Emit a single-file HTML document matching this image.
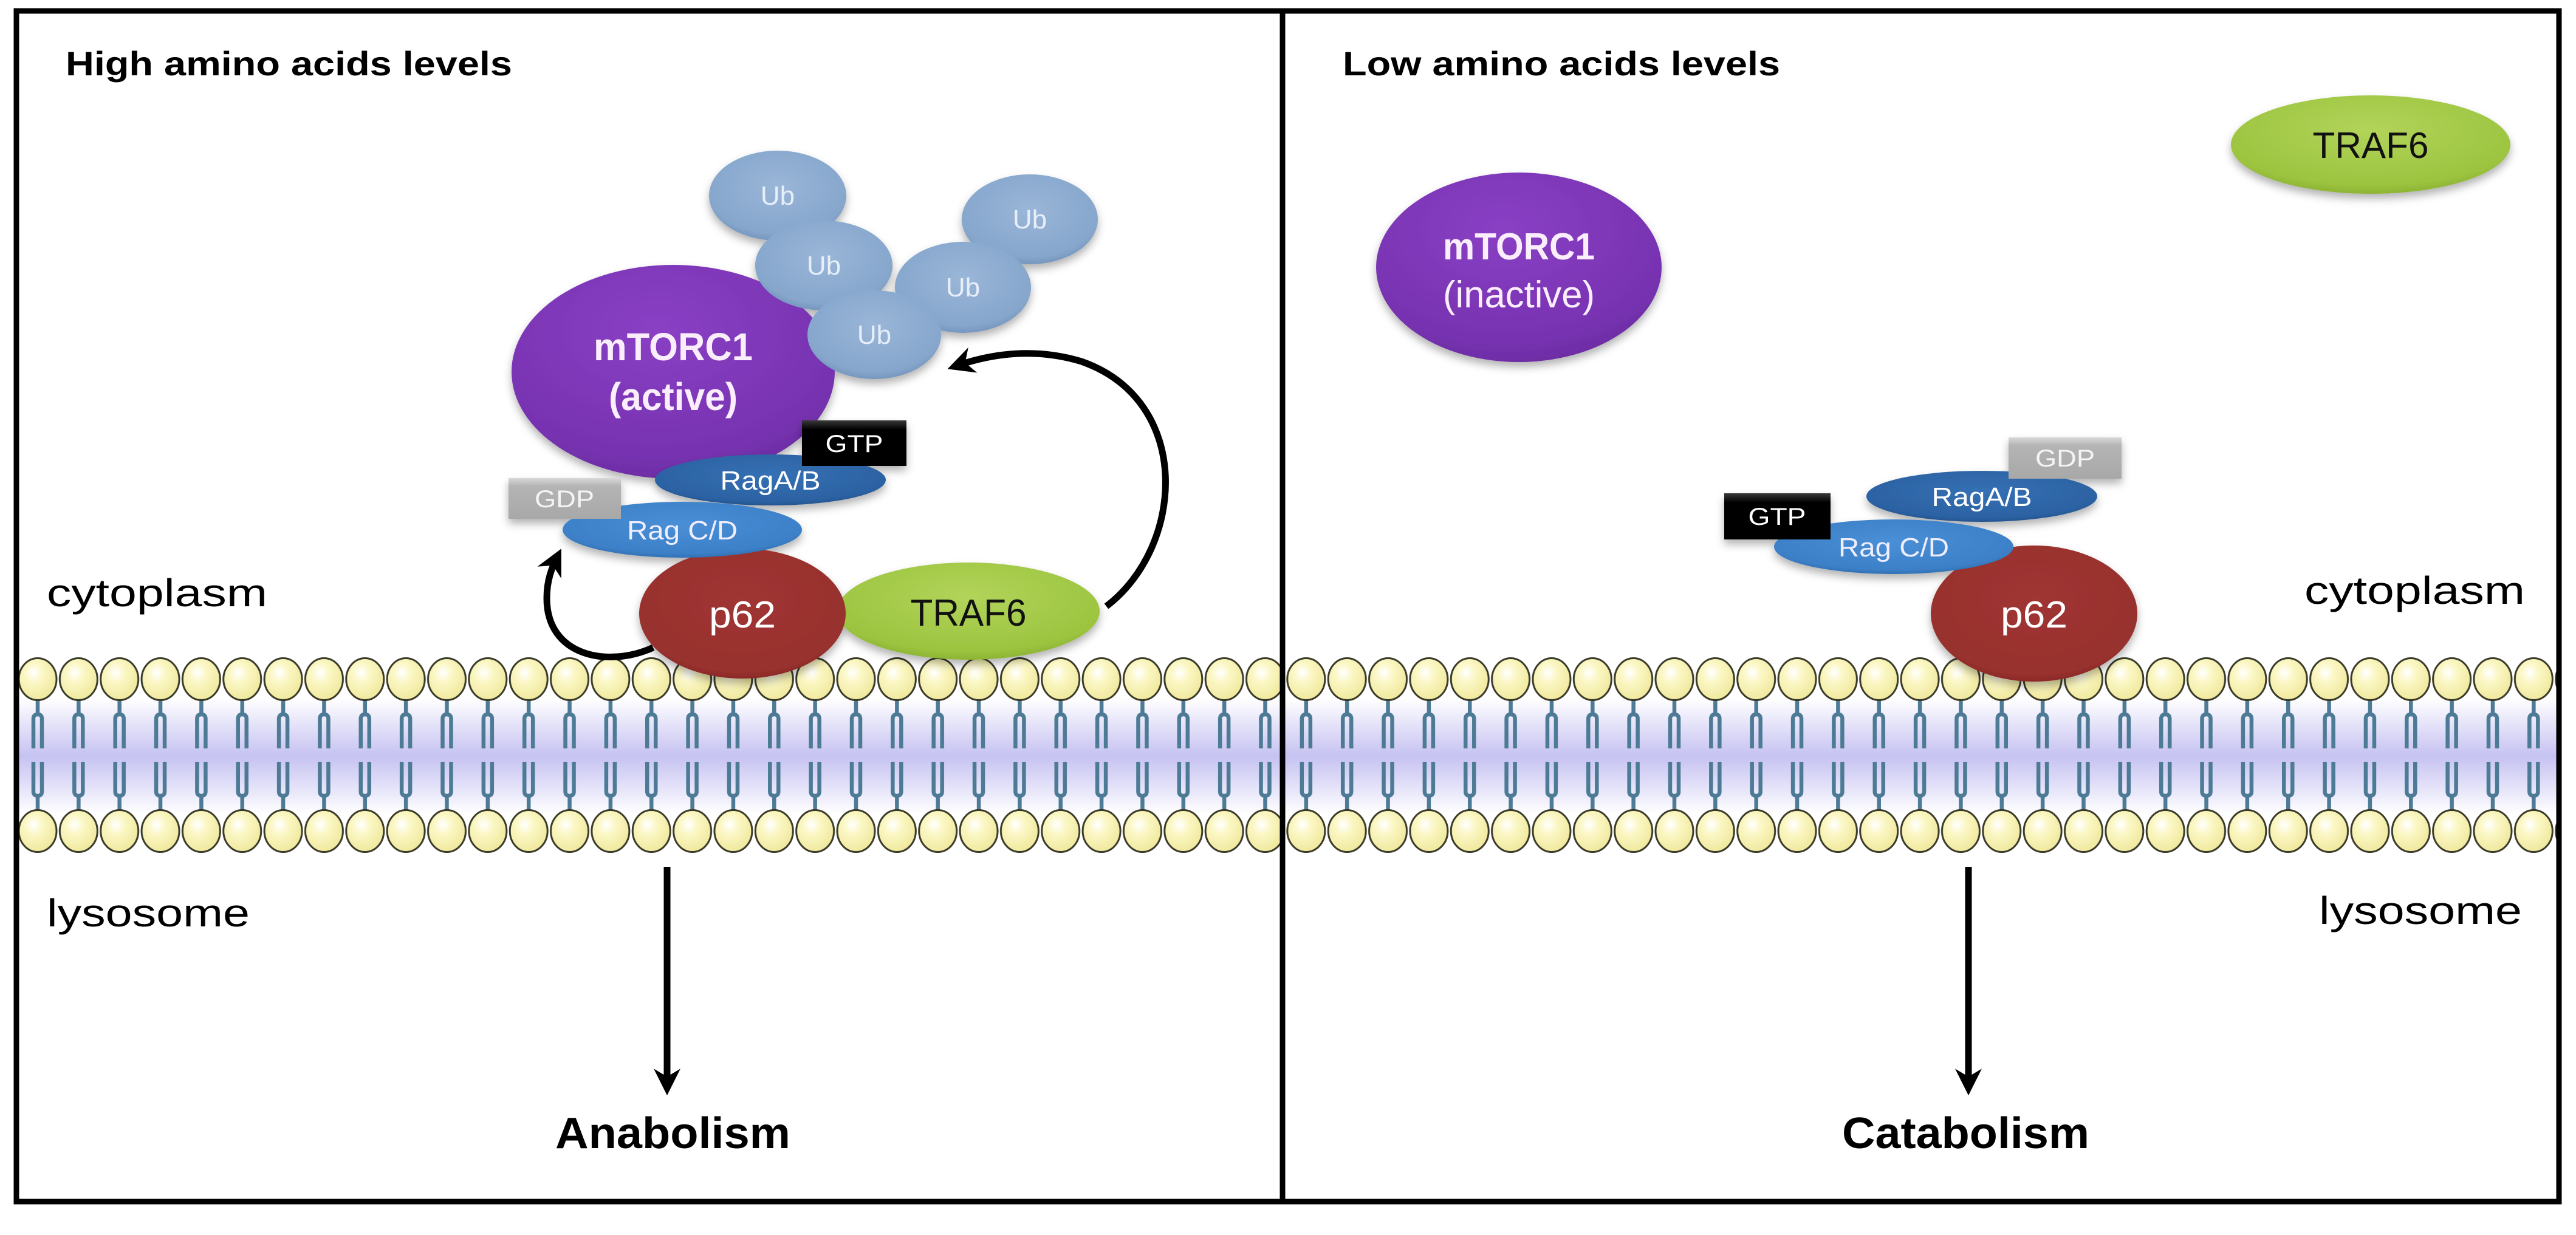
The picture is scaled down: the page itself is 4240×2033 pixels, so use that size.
<!DOCTYPE html>
<html><head><meta charset="utf-8">
<style>
html,body{margin:0;padding:0;background:#fff;}
svg{display:block;}
text{font-family:"Liberation Sans",sans-serif;}
</style></head>
<body>
<svg width="4240" height="2033" viewBox="0 0 4240 2033" xmlns="http://www.w3.org/2000/svg">
<defs>
  <radialGradient id="head" cx="0.4" cy="0.35" r="0.7">
    <stop offset="0" stop-color="#ffffff"/>
    <stop offset="0.35" stop-color="#fbf7c4"/>
    <stop offset="1" stop-color="#efe79a"/>
  </radialGradient>
  <linearGradient id="band" x1="0" y1="0" x2="0" y2="1">
    <stop offset="0" stop-color="#ffffff"/>
    <stop offset="0.3" stop-color="#dcdaf7"/>
    <stop offset="0.5" stop-color="#c6c2f2"/>
    <stop offset="0.7" stop-color="#dcdaf7"/>
    <stop offset="1" stop-color="#ffffff"/>
  </linearGradient>
  <pattern id="lipid" patternUnits="userSpaceOnUse" x="28.3" y="1076" width="67.35" height="332">
    <g stroke="#4d7a94" stroke-width="6.5" fill="none">
      <line x1="33.7" y1="75" x2="33.7" y2="100"/>
      <path d="M26.7,156 V107 Q26.7,100 33.7,100 Q40.7,100 40.7,107 V156"/>
      <line x1="33.7" y1="257" x2="33.7" y2="234"/>
      <path d="M26.7,178 V227 Q26.7,234 33.7,234 Q40.7,234 40.7,227 V178"/>
    </g>
    <ellipse cx="33.7" cy="42" rx="31" ry="34.5" fill="url(#head)" stroke="#3a3a2a" stroke-width="3"/>
    <ellipse cx="33.7" cy="292" rx="31" ry="34.5" fill="url(#head)" stroke="#3a3a2a" stroke-width="3"/>
  </pattern>
  <radialGradient id="purple" cx="0.45" cy="0.3" r="0.75">
    <stop offset="0" stop-color="#8a40c4"/>
    <stop offset="0.8" stop-color="#7632b0"/>
    <stop offset="1" stop-color="#6a2aa0"/>
  </radialGradient>
  <radialGradient id="ub" cx="0.5" cy="0.4" r="0.65">
    <stop offset="0" stop-color="#9ab6d8"/>
    <stop offset="0.8" stop-color="#86a6cc"/>
    <stop offset="1" stop-color="#6c8db5"/>
  </radialGradient>
  <radialGradient id="ragab" cx="0.5" cy="0.4" r="0.65">
    <stop offset="0" stop-color="#3470b4"/>
    <stop offset="0.8" stop-color="#2c62a3"/>
    <stop offset="1" stop-color="#1f4c85"/>
  </radialGradient>
  <radialGradient id="ragcd" cx="0.5" cy="0.4" r="0.65">
    <stop offset="0" stop-color="#4a8fd6"/>
    <stop offset="0.8" stop-color="#3c80c8"/>
    <stop offset="1" stop-color="#2c68a8"/>
  </radialGradient>
  <radialGradient id="p62" cx="0.5" cy="0.4" r="0.65">
    <stop offset="0" stop-color="#a03532"/>
    <stop offset="0.85" stop-color="#97302d"/>
    <stop offset="1" stop-color="#7e2422"/>
  </radialGradient>
  <radialGradient id="traf" cx="0.5" cy="0.35" r="0.7">
    <stop offset="0" stop-color="#b2d45a"/>
    <stop offset="0.8" stop-color="#9cc43f"/>
    <stop offset="1" stop-color="#84ab2e"/>
  </radialGradient>
  <linearGradient id="gtp" x1="0" y1="0" x2="0" y2="1">
    <stop offset="0" stop-color="#3a3a3a"/>
    <stop offset="0.2" stop-color="#000"/>
    <stop offset="1" stop-color="#000"/>
  </linearGradient>
  <linearGradient id="gdp" x1="0" y1="0" x2="0" y2="1">
    <stop offset="0" stop-color="#d8d8d8"/>
    <stop offset="0.2" stop-color="#b4b4b4"/>
    <stop offset="1" stop-color="#a8a8a8"/>
  </linearGradient>
  <filter id="sh" x="-20%" y="-20%" width="140%" height="150%">
    <feDropShadow dx="0" dy="8" stdDeviation="7" flood-color="#000" flood-opacity="0.3"/>
  </filter>
  <marker id="ah" viewBox="0 0 10 10" refX="7" refY="5" markerWidth="4" markerHeight="4" orient="auto-start-reverse" markerUnits="strokeWidth">
    <path d="M0,0 L10,5 L0,10 L3,5 z" fill="#000"/>
  </marker>
</defs>

<rect x="30" y="1150" width="4180" height="190" fill="url(#band)"/>
<rect x="30" y="1076" width="4180" height="332" fill="url(#lipid)"/>

<rect x="27" y="18" width="4185" height="1960" fill="none" stroke="#000" stroke-width="9"/>
<line x1="2111" y1="18" x2="2111" y2="1978" stroke="#000" stroke-width="9"/>

<!-- LEFT PANEL -->
<text x="108" y="124" font-size="56" font-weight="bold" textLength="735" lengthAdjust="spacingAndGlyphs">High amino acids levels</text>
<text x="77" y="998" font-size="64" textLength="363" lengthAdjust="spacingAndGlyphs">cytoplasm</text>
<text x="77" y="1525" font-size="64" textLength="334" lengthAdjust="spacingAndGlyphs">lysosome</text>

<g filter="url(#sh)">
<ellipse cx="1108" cy="612" rx="266" ry="176" fill="url(#purple)"/>
<ellipse cx="1280" cy="322" rx="113" ry="74" fill="url(#ub)"/>
<ellipse cx="1695" cy="361" rx="112" ry="74" fill="url(#ub)"/>
<ellipse cx="1356" cy="437" rx="113" ry="74" fill="url(#ub)"/>
<ellipse cx="1585" cy="473" rx="112" ry="75" fill="url(#ub)"/>
<ellipse cx="1439" cy="551" rx="110" ry="73" fill="url(#ub)"/>
</g>
<text x="1108" y="593" font-size="64" font-weight="bold" fill="#fbeefc" text-anchor="middle" textLength="262" lengthAdjust="spacingAndGlyphs">mTORC1</text>
<text x="1108" y="675" font-size="64" font-weight="bold" fill="#fbeefc" text-anchor="middle" textLength="212" lengthAdjust="spacingAndGlyphs">(active)</text>
<g font-size="44" fill="#e6eef8" text-anchor="middle">
<text x="1280" y="337">Ub</text>
<text x="1356" y="452">Ub</text>
<text x="1439" y="566">Ub</text>
<text x="1585" y="488">Ub</text>
<text x="1695" y="376">Ub</text>
</g>

<path d="M1821,998 C1950,900 1965,660 1780,595 Q1680,565 1572,603" fill="none" stroke="#000" stroke-width="11" marker-end="url(#ah)"/>
<path d="M1075,1066 C1000,1100 900,1080 900,985 C900,955 908,935 918,915" fill="none" stroke="#000" stroke-width="11" marker-end="url(#ah)"/>

<g filter="url(#sh)">
<ellipse cx="1594" cy="1006" rx="216" ry="80" fill="url(#traf)"/>
<ellipse cx="1222" cy="1010" rx="170" ry="107" fill="url(#p62)"/>
<ellipse cx="1268" cy="790" rx="190" ry="42" fill="url(#ragab)"/>
<ellipse cx="1123" cy="872" rx="197" ry="46" fill="url(#ragcd)"/>
<rect x="1320" y="692" width="172" height="75" fill="url(#gtp)"/>
<rect x="837" y="787" width="185" height="67" fill="url(#gdp)"/>
</g>
<text x="1594" y="1030" font-size="62" fill="#111" text-anchor="middle" textLength="191" lengthAdjust="spacingAndGlyphs">TRAF6</text>
<text x="1222" y="1033" font-size="62" fill="#fff" text-anchor="middle" textLength="110" lengthAdjust="spacingAndGlyphs">p62</text>
<text x="1268" y="806" font-size="44" fill="#fff" text-anchor="middle" textLength="165" lengthAdjust="spacingAndGlyphs">RagA/B</text>
<text x="1123" y="888" font-size="44" fill="#eef" text-anchor="middle" textLength="182" lengthAdjust="spacingAndGlyphs">Rag C/D</text>
<text x="1406" y="744" font-size="40" fill="#fff" text-anchor="middle" textLength="95" lengthAdjust="spacingAndGlyphs">GTP</text>
<text x="929" y="835" font-size="40" fill="#f4f4f4" text-anchor="middle" textLength="98" lengthAdjust="spacingAndGlyphs">GDP</text>

<line x1="1098" y1="1427" x2="1098" y2="1790" stroke="#000" stroke-width="11" marker-end="url(#ah)"/>
<text x="914" y="1890" font-size="72" font-weight="bold" textLength="387" lengthAdjust="spacingAndGlyphs">Anabolism</text>

<!-- RIGHT PANEL -->
<text x="2210" y="124" font-size="56" font-weight="bold" textLength="720" lengthAdjust="spacingAndGlyphs">Low amino acids levels</text>
<text x="4156" y="994" font-size="64" text-anchor="end" textLength="363" lengthAdjust="spacingAndGlyphs">cytoplasm</text>
<text x="4151" y="1521" font-size="64" text-anchor="end" textLength="334" lengthAdjust="spacingAndGlyphs">lysosome</text>

<g filter="url(#sh)">
<ellipse cx="2500" cy="440" rx="235" ry="156" fill="url(#purple)"/>
<ellipse cx="3902" cy="238" rx="230" ry="81" fill="url(#traf)"/>
<ellipse cx="3348" cy="1010" rx="170" ry="112" fill="url(#p62)"/>
<ellipse cx="3262" cy="817" rx="190" ry="42" fill="url(#ragab)"/>
<ellipse cx="3117" cy="900" rx="197" ry="45" fill="url(#ragcd)"/>
<rect x="2838" y="812" width="175" height="76" fill="url(#gtp)"/>
<rect x="3306" y="720" width="186" height="68" fill="url(#gdp)"/>
</g>
<text x="2500" y="427" font-size="62" font-weight="bold" fill="#fbeefc" text-anchor="middle" textLength="250" lengthAdjust="spacingAndGlyphs">mTORC1</text>
<text x="2500" y="506" font-size="62" fill="#fbeefc" text-anchor="middle" textLength="250" lengthAdjust="spacingAndGlyphs">(inactive)</text>
<text x="3902" y="260" font-size="60" fill="#111" text-anchor="middle" textLength="191" lengthAdjust="spacingAndGlyphs">TRAF6</text>
<text x="3348" y="1033" font-size="62" fill="#fff" text-anchor="middle" textLength="110" lengthAdjust="spacingAndGlyphs">p62</text>
<text x="3262" y="833" font-size="44" fill="#fff" text-anchor="middle" textLength="165" lengthAdjust="spacingAndGlyphs">RagA/B</text>
<text x="3117" y="916" font-size="44" fill="#eef" text-anchor="middle" textLength="182" lengthAdjust="spacingAndGlyphs">Rag C/D</text>
<text x="2925" y="864" font-size="40" fill="#fff" text-anchor="middle" textLength="95" lengthAdjust="spacingAndGlyphs">GTP</text>
<text x="3399" y="768" font-size="40" fill="#f4f4f4" text-anchor="middle" textLength="98" lengthAdjust="spacingAndGlyphs">GDP</text>

<line x1="3240" y1="1427" x2="3240" y2="1790" stroke="#000" stroke-width="11" marker-end="url(#ah)"/>
<text x="3032" y="1890" font-size="72" font-weight="bold" textLength="407" lengthAdjust="spacingAndGlyphs">Catabolism</text>
</svg>
</body></html>
